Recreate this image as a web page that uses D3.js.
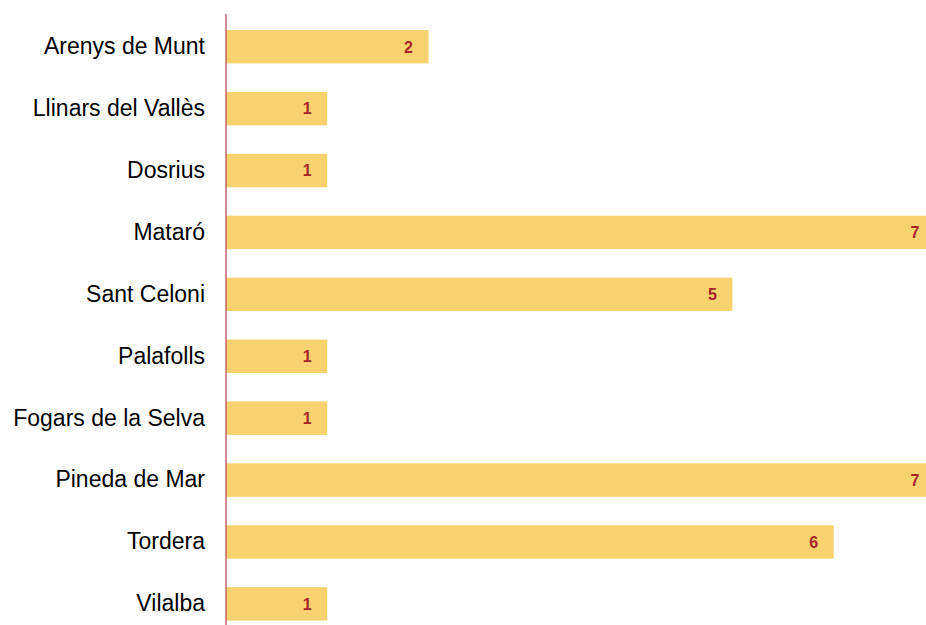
<!DOCTYPE html>
<html><head><meta charset="utf-8">
<script src="https://cdn.jsdelivr.net/npm/d3@7"></script>
<style>html,body{margin:0;padding:0;background:#fff;overflow:hidden}</style>
</head><body>
<svg id="c" width="926" height="625"></svg>
<script>
const categories = ["Arenys de Munt","Llinars del Vallès","Dosrius","Mataró","Sant Celoni","Palafolls","Fogars de la Selva","Pineda de Mar","Tordera","Vilalba"];
const values = [2,1,1,7,5,1,1,7,6,1];

const svg = d3.select("#c");
const x0 = 226;
const x = d3.scaleLinear().domain([0,7]).range([x0, x0 + 709]);
const y = d3.scaleBand().domain(categories).range([15.8, 634.8]).paddingInner(0.46).paddingOuter(0.23);

svg.selectAll("rect.bar").data(values).join("rect")
  .attr("class","bar")
  .attr("x", x(0))
  .attr("y", (d,i)=>y(categories[i]))
  .attr("width", d=>x(d)-x(0))
  .attr("height", y.bandwidth())
  .attr("fill", "#f7d26e");

svg.selectAll("text.val").data(values).join("text")
  .attr("class","val")
  .attr("x", d=>x(d)-20)
  .attr("y", (d,i)=>y(categories[i]) + y.bandwidth()/2)
  .attr("dy","0.36em")
  .attr("text-anchor","middle")
  .attr("font-family","Liberation Sans, Arial, sans-serif")
  .attr("font-weight","bold")
  .attr("font-size","16px")
  .attr("fill","#a3262a")
  .text(d=>d);

const ax = svg.append("g").attr("transform",`translate(${x0},0)`)
  .call(d3.axisLeft(y).tickSize(0).tickPadding(21));
ax.select(".domain").remove();
ax.selectAll("text")
  .attr("font-family","Liberation Sans, Arial, sans-serif")
  .attr("font-size","23px")
  .attr("fill","#000");

svg.append("line")
  .attr("x1", x0).attr("x2", x0)
  .attr("y1", 14).attr("y2", 625)
  .attr("stroke","#b5505a").attr("stroke-width",1.3);
</script>
</body></html>
